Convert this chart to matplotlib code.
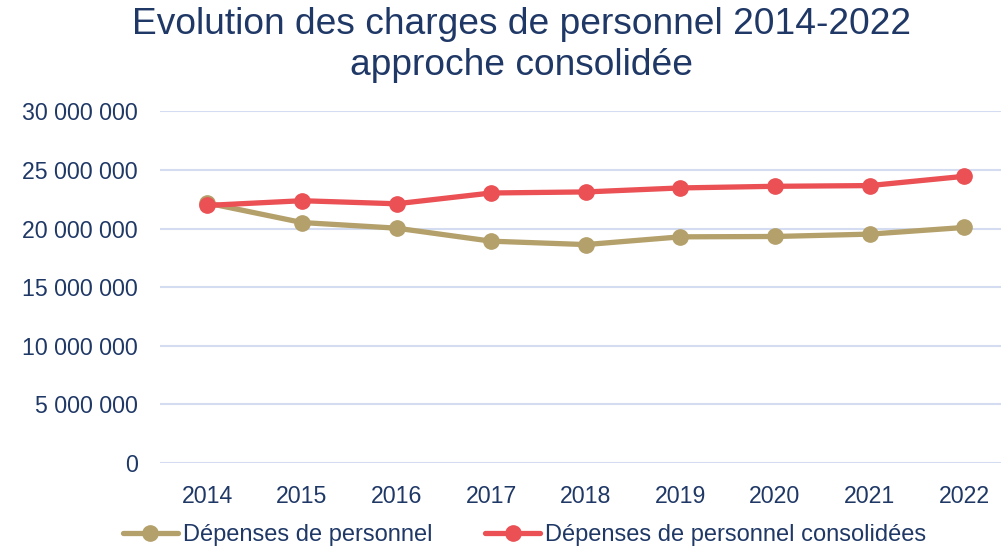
import matplotlib.pyplot as plt
from matplotlib.ticker import FuncFormatter

plt.rcParams['font.family'] = ['Liberation Sans', 'DejaVu Sans']

years = ['2014', '2015', '2016', '2017', '2018', '2019', '2020', '2021', '2022']
depenses = [22.17e6, 20.51e6, 20.03e6, 18.92e6, 18.63e6, 19.29e6, 19.32e6, 19.52e6, 20.09e6]
consolidees = [21.97e6, 22.37e6, 22.11e6, 23.03e6, 23.12e6, 23.46e6, 23.60e6, 23.66e6, 24.45e6]

navy = '#1F3866'
gold = '#B4A06A'
red = '#EA5054'
grid_col = '#D3DCF0'

fig = plt.figure(figsize=(10.01, 5.48), dpi=100)
ax = fig.add_axes([0.160, 0.155, 0.840, 0.642])

x = range(len(years))
ax.plot(x, depenses, color=gold, lw=3.8, marker='o', ms=11,
        label='Dépenses de personnel', solid_capstyle='round')
ax.plot(x, consolidees, color=red, lw=3.8, marker='o', ms=11,
        label='Dépenses de personnel consolidées', solid_capstyle='round')

ax.set_ylim(0, 30e6)
ax.set_xlim(-0.5, 8.39)
ax.set_yticks(range(0, 30000001, 5000000))
ax.yaxis.set_major_formatter(FuncFormatter(lambda v, p: f'{int(v):,}'.replace(',', ' ')))
ax.set_xticks(list(x))
ax.set_xticklabels(years)
ax.grid(axis='y', color=grid_col, lw=1.5)
ax.set_axisbelow(True)
for s in ax.spines.values():
    s.set_visible(False)
ax.tick_params(length=0, labelsize=16.7, labelcolor=navy)
ax.tick_params(axis='y', pad=16)
ax.tick_params(axis='x', pad=16)

fig.text(0.521, 0.918, 'Evolution des charges de personnel 2014-2022\napproche consolidée',
         ha='center', va='center', fontsize=26.7, color=navy, linespacing=1.24)

leg = fig.legend(loc='center', bbox_to_anchor=(0.524, 0.024), ncol=2, frameon=False,
                 fontsize=17, handlelength=2.33, handletextpad=0.2, columnspacing=2.25,
                 borderaxespad=0)
for t in leg.get_texts():
    t.set_color(navy)

fig.savefig('out.png', dpi=100)
